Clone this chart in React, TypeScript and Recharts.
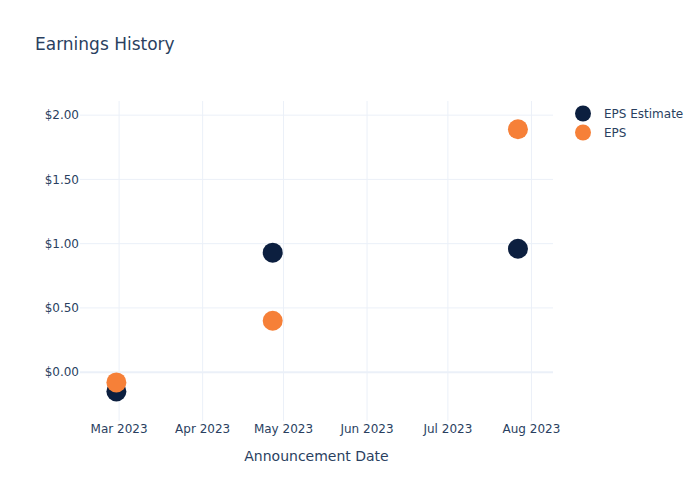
import { ScatterChart, Scatter, XAxis, YAxis, ReferenceLine } from 'recharts'

const announcementDates = ['2023-02-28', '2023-04-27', '2023-07-27']
const epsEstimate = [-0.15, 0.93, 0.96]
const epsActual = [-0.08, 0.4, 1.89]
const monthTicks = ['2023-03-01', '2023-04-01', '2023-05-01', '2023-06-01', '2023-07-01', '2023-08-01']
const yTicks = [0, 0.5, 1, 1.5, 2]

const MONTHS = ['Jan', 'Feb', 'Mar', 'Apr', 'May', 'Jun', 'Jul', 'Aug', 'Sep', 'Oct', 'Nov', 'Dec']
const ts = (d: string) => Date.parse(d + 'T00:00:00Z')
const DAY = 86400000

const estimateData = announcementDates.map((d, i) => ({ date: ts(d), value: epsEstimate[i] }))
const actualData = announcementDates.map((d, i) => ({ date: ts(d), value: epsActual[i] }))
const xTickValues = monthTicks.map(ts)

const NAVY = '#0c1f3f'
const ORANGE = '#f68038'
const TEXT = '#2a3f5f'
const GRID = '#ebf0f8'
const FONT = 'DejaVu Sans, sans-serif'

const fmtMonth = (v: number) => {
  const d = new Date(v)
  return `${MONTHS[d.getUTCMonth()]} ${d.getUTCFullYear()}`
}

const dot = (color: string) => (p: any) => <circle cx={p.cx} cy={p.cy} r={10} fill={color} />

const legendItems = [
  { name: 'EPS Estimate', color: NAVY },
  { name: 'EPS', color: ORANGE },
]

function LegendBox() {
  return (
    <div style={{ position: 'absolute', left: 573, top: 104, fontFamily: FONT, fontSize: 12, color: TEXT }}>
      {legendItems.map(it => (
        <div key={it.name} style={{ display: 'flex', alignItems: 'center', height: 19 }}>
          <svg width={20} height={19}>
            <circle cx={10} cy={9.5} r={8} fill={it.color} />
          </svg>
          <span style={{ marginLeft: 11 }}>{it.name}</span>
        </div>
      ))}
    </div>
  )
}

export default function App() {
  return (
    <div style={{ position: 'absolute', left: 0, top: 0, width: 700, height: 500, background: '#fff' }}>
      <div style={{ position: 'absolute', left: 35, top: 34, fontFamily: FONT, fontSize: 17, color: TEXT, lineHeight: '20px' }}>
        Earnings History
      </div>
      <ScatterChart width={700} height={500} margin={{ top: 101, right: 147, bottom: 50, left: 0 }}>
        <XAxis
          type="number"
          dataKey="date"
          domain={[ts('2023-02-14') + DAY / 2, ts('2023-08-09')]}
          ticks={xTickValues}
          tickFormatter={fmtMonth}
          axisLine={false}
          tickLine={false}
          tickSize={0}
          tickMargin={3}
          height={29}
          allowDataOverflow
          tick={{ fill: TEXT, fontSize: 12, fontFamily: FONT }}
        />
        <YAxis
          type="number"
          dataKey="value"
          domain={[-0.38, 2.11]}
          ticks={yTicks}
          tickFormatter={(v: number) => `$${v.toFixed(2)}`}
          axisLine={false}
          tickLine={false}
          tickSize={0}
          tickMargin={1}
          width={80}
          allowDataOverflow
          tick={{ fill: TEXT, fontSize: 12, fontFamily: FONT }}
        />
        {xTickValues.map(t => (
          <ReferenceLine key={'x' + t} x={t} stroke={GRID} strokeWidth={1} />
        ))}
        {yTicks.map(t => (
          <ReferenceLine key={'y' + t} y={t} stroke={GRID} strokeWidth={t === 0 ? 2 : 1} />
        ))}
        <Scatter name="EPS Estimate" data={estimateData} fill={NAVY} shape={dot(NAVY)} isAnimationActive={false} />
        <Scatter name="EPS" data={actualData} fill={ORANGE} shape={dot(ORANGE)} isAnimationActive={false} />
      </ScatterChart>
      <LegendBox />
      <div style={{ position: 'absolute', left: 80, width: 473, top: 447, textAlign: 'center', fontFamily: FONT, fontSize: 14, color: TEXT, lineHeight: '18px' }}>
        Announcement Date
      </div>
    </div>
  )
}
